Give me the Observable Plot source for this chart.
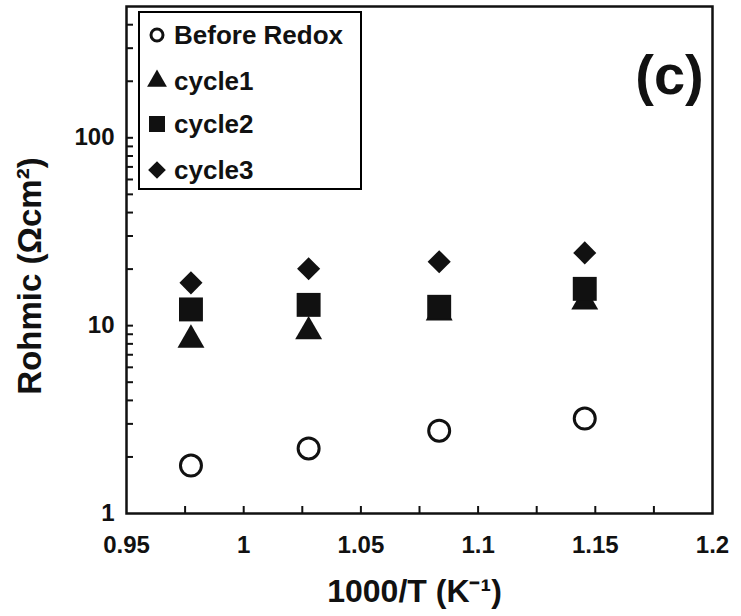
<!DOCTYPE html>
<html>
<head>
<meta charset="utf-8">
<script src="https://cdn.jsdelivr.net/npm/d3@7"></script>
<script src="https://cdn.jsdelivr.net/npm/@observablehq/plot@0.6"></script>
<style>
  html, body { margin: 0; padding: 0; background: white; }
  #wrap { position: relative; width: 741px; height: 616px; font-family: "Liberation Sans", Arial, sans-serif; }
  #legend { position: absolute; left: 138px; top: 11px; width: 224px; height: 179px; border: 2.5px solid black; background: white; box-sizing: border-box; }
  .row { position: absolute; left: 0; height: 30px; display: flex; align-items: center; font-weight: bold; font-size: 26px; color: #111; }
  .row svg { width: 34px; height: 30px; }
</style>
</head>
<body>
<div id="wrap"></div>
<script>
// ---- data ----
const invT = [0.9775, 1.0277, 1.0834, 1.1455];
const beforeRedox = [1.80, 2.22, 2.76, 3.20];
const cycle1 = [8.4, 9.3, 11.7, 13.4];
const cycle2 = [12.2, 12.9, 12.6, 15.7];
const cycle3 = [16.9, 20.1, 21.9, 24.4];
const seriesNames = ["Before Redox", "cycle1", "cycle2", "cycle3"];
const xTickLabels = [0.95, 1, 1.05, 1.1, 1.15, 1.2];
const xTickMarks = [0.975, 1, 1.025, 1.05, 1.075, 1.1, 1.125, 1.15, 1.175];
const yTickLabels = [1, 10, 100];
const yTickMarks = [2,3,4,5,6,7,8,9,10,20,30,40,50,60,70,80,90,100,200,300,400];

const rows = (ys) => invT.map((x, i) => ({x, y: ys[i]}));

const plot = Plot.plot({
  width: 741, height: 616,
  marginLeft: 126, marginRight: 29, marginTop: 6, marginBottom: 103,
  style: {fontFamily: "'Liberation Sans', Arial, sans-serif", background: "white", color: "#111"},
  x: {domain: [0.95, 1.2]},
  y: {type: "log", domain: [1, 500]},
  marks: [
    Plot.ruleX(xTickMarks, {x: d => d, insetTop: 500, stroke: "#111", strokeWidth: 2}),
    Plot.ruleY(yTickMarks, {y: d => d, insetRight: 579, stroke: "#111", strokeWidth: 2}),
    Plot.frame({stroke: "#111", strokeWidth: 2.5}),
    Plot.axisX(xTickLabels, {tickSize: 0, tickPadding: 22, fontSize: 24, fontWeight: "bold", tickFormat: d => String(d), label: null}),
    Plot.axisY(yTickLabels, {tickSize: 0, tickPadding: 12, fontSize: 24, fontWeight: "bold", tickFormat: d => String(d), label: null}),
    Plot.dot(rows(beforeRedox), {x: "x", y: "y", symbol: "circle", r: 10.5, fill: "none", stroke: "#111", strokeWidth: 3}),
    Plot.dot(rows(cycle1), {x: "x", y: "y", symbol: "triangle", r: 10, fill: "#111", stroke: "none"}),
    Plot.dot(rows(cycle2), {x: "x", y: "y", symbol: "square", r: 13.5, fill: "#111", stroke: "none"}),
    Plot.dot(rows(cycle3), {x: "x", y: "y", symbol: "diamond2", r: 10.4, fill: "#111", stroke: "none"}),
    Plot.text(["(c)"], {frameAnchor: "top-right", dx: -43, dy: 48, fontSize: 56, fontWeight: "bold", textAnchor: "middle", fill: "#111"}),
    Plot.text(["Rohmic (Ωcm²)"], {frameAnchor: "left", dx: -96, dy: 16, rotate: -90, fontSize: 33, fontWeight: "bold", textAnchor: "middle", fill: "#111"}),
    Plot.text(["1000/T (K⁻¹)"], {frameAnchor: "bottom", dx: -5, dy: 88, fontSize: 32, fontWeight: "bold", textAnchor: "middle", fill: "#111"})
  ]
});

const wrap = document.getElementById("wrap");
wrap.appendChild(plot);

// legend
const legend = document.createElement("div");
legend.id = "legend";
const symbols = [
  {type: d3.symbolCircle, size: Math.PI * 6 * 6, fill: "none", stroke: "#111", sw: 3},
  {type: d3.symbolTriangle, size: 170, fill: "#111", stroke: "none", sw: 0},
  {type: d3.symbolSquare, size: 256, fill: "#111", stroke: "none", sw: 0},
  {type: d3.symbolDiamond2, size: 200, fill: "#111", stroke: "none", sw: 0}
];
const rowTops = [7, 53, 96, 142];
seriesNames.forEach((name, i) => {
  const row = document.createElement("div");
  row.className = "row";
  row.style.top = rowTops[i] + "px";
  const s = symbols[i];
  const path = d3.symbol(s.type, s.size)();
  row.innerHTML = `<svg viewBox="-17 -15 34 30"><path d="${path}" fill="${s.fill}" stroke="${s.stroke}" stroke-width="${s.sw}"/></svg><span>${name}</span>`;
  legend.appendChild(row);
});
wrap.appendChild(legend);
</script>
</body>
</html>
